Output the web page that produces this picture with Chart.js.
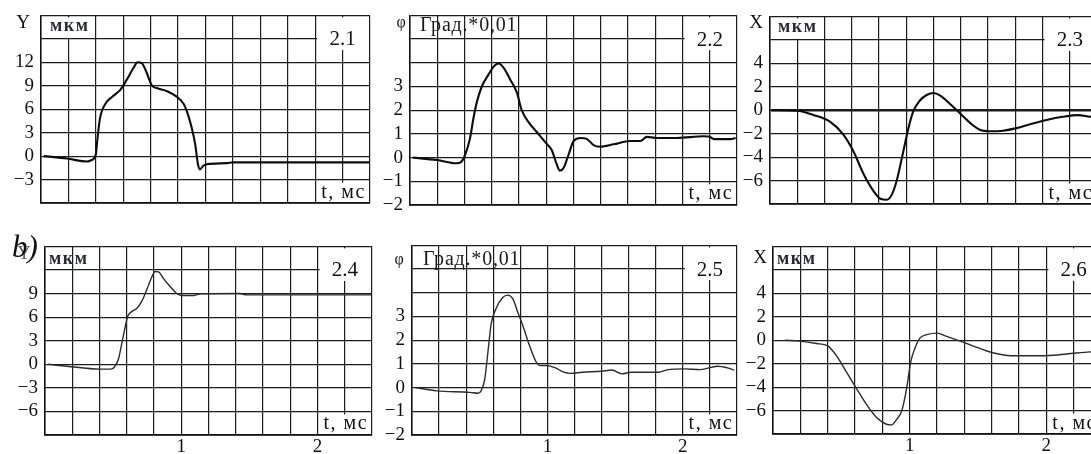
<!DOCTYPE html>
<html>
<head>
<meta charset="utf-8">
<script src="https://cdn.jsdelivr.net/npm/chart.js@4.4.1/dist/chart.umd.min.js"></script>
<style>
  html, body { margin: 0; padding: 0; background: #fff; overflow: hidden; }
  #wrap { position: relative; width: 1091px; height: 454px; overflow: hidden; background: #fff; }
  canvas { position: absolute; }
</style>
</head>
<body>
<div id="wrap"></div>
<script>
// t, ms (same for all panels)
const xTicksShown = [1, 2];

// 2.1  Y, мкм
const t21 = [0.02, 0.19, 0.335, 0.37, 0.40, 0.41, 0.43, 0.47, 0.52, 0.58, 0.63, 0.675, 0.705, 0.735, 0.77, 0.81, 0.845, 0.92, 0.99, 1.04, 1.065, 1.10, 1.125, 1.145, 1.16, 1.18, 1.21, 1.355, 1.40, 2.4];
const y21 = [0, -0.3, -0.7, -0.5, 0.2, 1.9, 4.8, 6.7, 7.6, 8.5, 9.9, 11.3, 12, 11.9, 10.7, 9.0, 8.7, 8.3, 7.6, 6.7, 5.7, 3.6, 1.5, -1.05, -1.7, -1.3, -1.05, -0.9, -0.8, -0.8];

// 2.2  φ, град*0.01
const t22 = [0.02, 0.196, 0.343, 0.372, 0.404, 0.44, 0.465, 0.49, 0.527, 0.576, 0.612, 0.649, 0.686, 0.735, 0.784, 0.82, 0.87, 0.93, 1.0, 1.04, 1.078, 1.10, 1.127, 1.163, 1.2, 1.25, 1.30, 1.347, 1.396, 1.494, 1.616, 1.69, 1.739, 1.81, 1.96, 2.155, 2.2, 2.23, 2.35, 2.39];
const y22 = [0, -0.1, -0.24, -0.2, 0.11, 0.8, 1.64, 2.33, 3.0, 3.5, 3.83, 3.97, 3.8, 3.3, 2.75, 2.0, 1.5, 1.08, 0.6, 0.32, -0.3, -0.55, -0.44, 0.11, 0.7, 0.83, 0.78, 0.53, 0.46, 0.56, 0.7, 0.7, 0.875, 0.83, 0.83, 0.9, 0.875, 0.78, 0.78, 0.83];

// 2.3  X, мкм
const t23 = [0.012, 0.196, 0.318, 0.44, 0.54, 0.612, 0.685, 0.76, 0.81, 0.857, 0.894, 0.93, 0.974, 1.016, 1.05, 1.1, 1.15, 1.2, 1.25, 1.32, 1.395, 1.47, 1.54, 1.616, 1.71, 1.81, 1.91, 2.03, 2.15, 2.26, 2.35, 2.4];
const y23 = [0, -0.05, -0.4, -0.97, -2.1, -3.5, -5.4, -6.9, -7.55, -7.64, -7.2, -6.0, -3.75, -1.53, -0.14, 0.83, 1.3, 1.47, 1.25, 0.55, -0.28, -1.1, -1.67, -1.8, -1.75, -1.53, -1.2, -0.83, -0.56, -0.42, -0.56, -0.6];

// 2.4  Y, мкм
const t24 = [0.024, 0.16, 0.404, 0.49, 0.514, 0.54, 0.563, 0.588, 0.607, 0.637, 0.673, 0.71, 0.747, 0.784, 0.808, 0.833, 0.87, 0.918, 0.967, 1.0, 1.09, 1.14, 1.43, 1.48, 2.4];
const y24 = [0, -0.25, -0.62, -0.58, -0.25, 0.7, 2.6, 4.7, 6.1, 6.7, 7.1, 8.0, 9.5, 11.1, 11.8, 11.75, 10.9, 9.9, 9.0, 8.75, 8.75, 8.96, 9.0, 8.83, 8.83];

// 2.5  φ, град*0.01
const t25 = [0.024, 0.183, 0.427, 0.488, 0.51, 0.537, 0.56, 0.585, 0.62, 0.67, 0.707, 0.744, 0.78, 0.817, 0.866, 0.915, 0.94, 0.99, 1.06, 1.12, 1.17, 1.256, 1.40, 1.476, 1.55, 1.62, 1.72, 1.82, 1.89, 2.01, 2.13, 2.256, 2.33, 2.38];
const y25 = [0, -0.14, -0.2, -0.24, -0.14, 0.35, 1.46, 2.7, 3.33, 3.8, 3.9, 3.75, 3.2, 2.64, 1.8, 1.1, 0.94, 0.93, 0.83, 0.65, 0.6, 0.65, 0.69, 0.74, 0.58, 0.65, 0.65, 0.65, 0.76, 0.79, 0.76, 0.9, 0.83, 0.74];

// 2.6  X, мкм
const t26 = [0.086, 0.196, 0.318, 0.403, 0.465, 0.538, 0.61, 0.685, 0.758, 0.83, 0.868, 0.905, 0.941, 0.978, 1.007, 1.04, 1.076, 1.125, 1.2, 1.27, 1.37, 1.467, 1.565, 1.66, 1.76, 1.93, 2.05, 2.18, 2.32, 2.4];
const y26 = [0, -0.08, -0.28, -0.5, -1.33, -2.72, -4.1, -5.5, -6.6, -7.17, -7.22, -6.75, -6.05, -4.1, -1.9, -0.64, 0.2, 0.47, 0.6, 0.33, -0.08, -0.5, -0.92, -1.2, -1.33, -1.33, -1.28, -1.14, -1.0, -0.98];

const panelIds = ['2.1', '2.2', '2.3', '2.4', '2.5', '2.6'];
const symbols = ['Y', 'φ', 'X', 'Y', 'φ', 'X'];
const units = ['мкм', 'Град.*0,01', 'мкм', 'мкм', 'Град.*0,01', 'мкм'];
const timeLabel = 't, мс';
const yRanges = [[-6, 18, 3], [-2, 6, 1], [-8, 8, 2], [-9, 15, 3], [-2, 6, 1], [-8, 8, 2]];
const yShown = [[12, 9, 6, 3, 0, -3], [3, 2, 1, 0, -1, -2], [4, 2, 0, -2, -4, -6],
                [9, 6, 3, 0, -3, -6], [3, 2, 1, 0, -1, -2], [4, 2, 0, -2, -4, -6]];
const series = [[t21, y21], [t22, y22], [t23, y23], [t24, y24], [t25, y25], [t26, y26]];

// where each plot area sits on the page
const layout = [
  {L: 41,  T: 13,  R: 370,  B: 203, symDx: -18, symDy: 8,  unitDx: 9,  unitDy: 11, bottom: false},
  {L: 410, T: 13,  R: 737,  B: 205, symDx: -9,  symDy: 7,  unitDx: 10, unitDy: 10, bottom: false},
  {L: 770, T: 14,  R: 1097, B: 204, symDx: -14, symDy: 7,  unitDx: 8,  unitDy: 11, bottom: false, thickZero: true},
  {L: 45,  T: 244, R: 372,  B: 435, symDx: -21, symDy: 8,  unitDx: 4,  unitDy: 13, bottom: true},
  {L: 412, T: 243, R: 737,  B: 435, symDx: -13, symDy: 14, unitDx: 11, unitDy: 14, bottom: true},
  {L: 773, T: 244, R: 1101, B: 434, symDx: -13, symDy: 12, unitDx: 4,  unitDy: 13, bottom: true}
];

const serif = "'Liberation Serif', 'Times New Roman', serif";
const PAD_TOP = 16, PAD_RIGHT = 6, Y_W = 45, X_H = 26;

const near = (list, v) => list.some(s => Math.abs(s - v) < 1e-6);

const notes = {
  id: 'notes',
  beforeDatasetsDraw(chart, args, o) {
    const {ctx, chartArea: a, scales: {x, y}} = chart;
    const step = o.step;
    const col = v => x.getPixelForValue(v);
    const row = k => y.getPixelForValue(y.max - k * step);
    ctx.save();
    ctx.fillStyle = '#fff';
    // panel number box (top right)
    ctx.fillRect(col(2.0) + 2, a.top + 2, a.right - 1 - col(2.0) - 2, row(1) + 11 - a.top - 2);
    // time label box (bottom right)
    ctx.fillRect(col(2.0) + 3, row(7) + 3, a.right - 1 - col(2.0) - 3, a.bottom - 1 - row(7) - 3);
    if (o.unit === 'мкм' && !o.bottom) {
      ctx.fillRect(a.left + 1, a.top + 2, col(0.4) - a.left - 2, row(1) - a.top - 3);
    }
    ctx.fillStyle = '#111';
    ctx.textAlign = 'center';
    ctx.textBaseline = 'middle';
    ctx.font = '21px ' + serif;
    ctx.fillText(o.idText, col(2.2), row(1) + 1);

    ctx.font = '20px ' + serif;
    ctx.letterSpacing = '1.5px';
    ctx.fillText(timeLabel, col(2.2) + 1, (row(7) + a.bottom) / 2 + 1);

    ctx.textAlign = 'left';
    if (o.unit === 'мкм') {
      ctx.font = 'bold 18px ' + serif;
      ctx.letterSpacing = '1.5px';
      ctx.fillStyle = '#2a2a33';
    } else {
      ctx.font = '20px ' + serif;
      ctx.letterSpacing = '0.8px';
      ctx.fillStyle = '#1a1a1a';
    }
    ctx.fillText(o.unit, a.left + o.unitDx, a.top + o.unitDy);
    ctx.letterSpacing = '0px';

    ctx.textAlign = 'center';
    ctx.fillStyle = o.symColor;
    ctx.font = (o.sym === 'φ' ? '16px ' : '19px ') + serif;
    ctx.fillText(o.sym, a.left + o.symDx, a.top + o.symDy);

    if (o.extra) {
      ctx.fillStyle = '#111';
      ctx.textAlign = 'left';
      ctx.textBaseline = 'alphabetic';
      ctx.font = 'italic 31px ' + serif;
      ctx.fillText(o.extra.text, o.extra.x, o.extra.y);
    }
    ctx.restore();
  }
};

const wrap = document.getElementById('wrap');

layout.forEach((p, i) => {
  const [ymin, ymax, ystep] = yRanges[i];
  const shown = yShown[i];
  const [ts, vs] = series[i];
  const left = p.L - Y_W, top = p.T - PAD_TOP;
  const canvas = document.createElement('canvas');
  canvas.width = p.R - p.L + Y_W + PAD_RIGHT;
  canvas.height = p.B - p.T + PAD_TOP + X_H;
  canvas.style.left = left + 'px';
  canvas.style.top = top + 'px';
  wrap.appendChild(canvas);

  new Chart(canvas, {
    type: 'line',
    data: {
      datasets: [{
        data: ts.map((t, k) => ({x: t, y: vs[k]})),
        borderColor: p.bottom ? '#2b2b2b' : '#0d0d0d',
        borderWidth: p.bottom ? 1.4 : 2.1,
        pointRadius: 0,
        tension: 0.4,
        cubicInterpolationMode: 'monotone',
        fill: false
      }]
    },
    options: {
      responsive: false,
      animation: false,
      layout: {padding: {left: 0, top: PAD_TOP, right: PAD_RIGHT, bottom: 0}},
      plugins: {
        legend: {display: false},
        tooltip: {enabled: false},
        notes: {
          step: ystep,
          idText: panelIds[i],
          unit: units[i],
          sym: symbols[i],
          symColor: i === 3 ? '#5a6070' : '#111',
          symDx: p.symDx, symDy: p.symDy,
          unitDx: p.unitDx, unitDy: p.unitDy,
          bottom: p.bottom,
          extra: i === 3 ? {text: 'b)', x: 12 - left, y: 257 - top} : null
        }
      },
      scales: {
        x: {
          type: 'linear', min: 0, max: 2.4,
          ticks: {
            stepSize: 0.2, autoSkip: false, maxRotation: 0, padding: 1,
            color: '#111', font: {family: serif, size: 19},
            callback: v => (p.bottom && near(xTicksShown, v)) ? String(Math.round(v)) : ''
          },
          grid: {color: '#1c1c1c', lineWidth: 1.2, drawTicks: false},
          border: {color: '#111', width: 1.7},
          afterFit: s => { s.height = X_H; }
        },
        y: {
          type: 'linear', min: ymin, max: ymax,
          ticks: {
            stepSize: ystep, autoSkip: false, padding: 7,
            color: '#111', font: {family: serif, size: 19},
            callback: v => near(shown, v) ? String(Math.round(v)).replace('-', '\u2212') : ''
          },
          grid: {
            color: '#1c1c1c', drawTicks: false,
            lineWidth: c => (p.thickZero && c.tick && Math.abs(c.tick.value) < 1e-6) ? 2.6 : 1.2
          },
          border: {color: '#111', width: 1.5},
          afterFit: s => { s.width = Y_W; }
        }
      }
    },
    plugins: [notes]
  });
});
</script>
</body>
</html>
